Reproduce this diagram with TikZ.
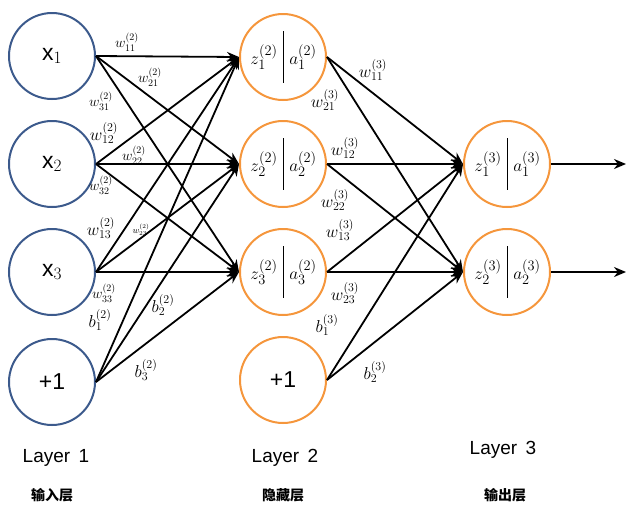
\documentclass[tikz,border=0pt]{standalone}
\usepackage{fontspec}
\newfontfamily\cjk{Noto Sans CJK SC}
\newfontfamily\sans{Liberation Sans}
\usetikzlibrary{arrows.meta}
\definecolor{bl}{RGB}{60,90,140}
\definecolor{org}{RGB}{245,150,60}
\begin{document}
\begin{tikzpicture}[x=1pt,y=-1pt,
 inp/.style={circle,draw=bl,line width=2pt,minimum size=86pt,inner sep=0pt,font=\sans\fontsize{23}{23}\selectfont},
 hid/.style={circle,draw=org,line width=2pt,minimum size=86pt,inner sep=0pt},
 outn/.style={circle,draw=org,line width=2pt,minimum size=86pt,inner sep=0pt},
 e/.style={-{Stealth[length=12pt,width=10pt]},line width=1.8pt},
 lb/.style={font=\fontsize{17}{17}\selectfont,inner sep=0pt},
 ls/.style={font=\fontsize{14}{14}\selectfont,inner sep=0pt},
 zl/.style={font=\fontsize{19}{19}\selectfont},
 lay/.style={font=\sans\fontsize{19}{19}\selectfont},
 cn/.style={font=\cjk\bfseries\fontsize{14}{14}\selectfont}]
\useasboundingbox (0,0) rectangle (639,512);
\node[inp] (i1) at (52,56) {x$_1$};
\node[inp] (i2) at (52,164) {x$_2$};
\node[inp] (i3) at (52,272) {x$_3$};
\node[inp] (i4) at (52,382) {+1};
\foreach \k/\y in {1/57,2/164,3/272}{
 \node[hid] (h\k) at (283,\y) {};
 \draw[line width=1pt] (283,\y-26) -- (283,\y+26);
 \node[zl] at (264,\y) {$z_{\k}^{(2)}$};
 \node[zl] at (303,\y) {$a_{\k}^{(2)}$};
}
\node[hid,font=\sans\fontsize{23}{23}\selectfont] (h4) at (283,380) {+1};
\foreach \k/\y in {1/164,2/272}{
 \node[outn] (o\k) at (507,\y) {};
 \draw[line width=1pt] (507,\y-26) -- (507,\y+26);
 \node[zl] at (488,\y) {$z_{\k}^{(3)}$};
 \node[zl] at (527,\y) {$a_{\k}^{(3)}$};
 \coordinate (t\k) at (626,\y);
 \draw[e] (o\k.east) -- (t\k);
}
\foreach \a in {1,2,3,4}\foreach \b in {1,2,3}{\draw[e] (i\a.east) -- (h\b.west);}
\foreach \a in {1,2,3,4}\foreach \b in {1,2}{\draw[e] (h\a.east) -- (o\b.west);}
\node[ls] at (127,42) {$w_{11}^{(2)}$};
\node[ls] at (150,77) {$w_{21}^{(2)}$};
\node[ls] at (101,101) {$w_{31}^{(2)}$};
\node[lb] at (104,133) {$w_{12}^{(2)}$};
\node[ls] at (134,155) {$w_{22}^{(2)}$};
\node[ls] at (101,185) {$w_{32}^{(2)}$};
\node[lb] at (101,228) {$w_{13}^{(2)}$};
\node[font=\fontsize{9}{9}\selectfont,inner sep=0pt] at (141,230) {$w_{23}^{(2)}$};
\node[ls] at (104,293) {$w_{33}^{(2)}$};
\node[lb] at (100,320) {$b_{1}^{(2)}$};
\node[lb] at (163,305) {$b_{2}^{(2)}$};
\node[lb] at (146,370) {$b_{3}^{(2)}$};
\node[lb] at (373,70) {$w_{11}^{(3)}$};
\node[lb] at (325,100) {$w_{21}^{(3)}$};
\node[lb] at (345,148) {$w_{12}^{(3)}$};
\node[lb] at (335,200) {$w_{22}^{(3)}$};
\node[lb] at (340,230) {$w_{13}^{(3)}$};
\node[lb] at (345,293) {$w_{23}^{(3)}$};
\node[lb] at (327,325) {$b_{1}^{(3)}$};
\node[lb] at (375,372) {$b_{2}^{(3)}$};
\node[lay] at (56,458) {Layer\, 1};
\node[lay] at (285,458) {Layer\, 2};
\node[lay] at (503,450) {Layer\, 3};
\node[cn] at (52,495) {输入层};
\node[cn] at (283,495) {隐藏层};
\node[cn] at (505,495) {输出层};
\end{tikzpicture}
\end{document}
